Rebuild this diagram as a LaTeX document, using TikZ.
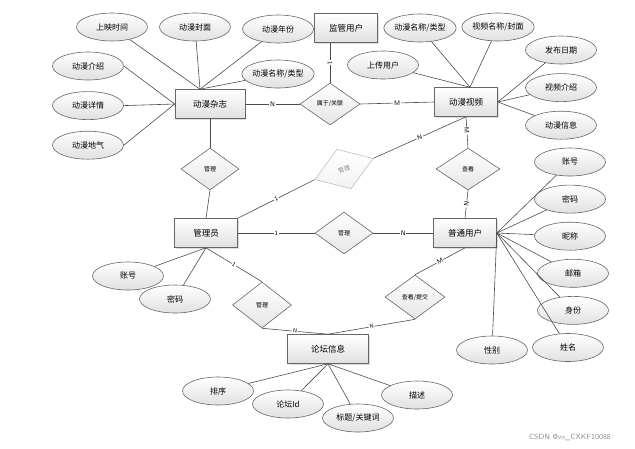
\documentclass[tikz,border=0pt]{standalone}
\usepackage{fontspec}
\newfontfamily\cjk{Noto Sans CJK SC}
\usetikzlibrary{positioning,chains,shapes,shadows}

\begin{document}
\begin{tikzpicture}[
x=1pt,y=-1pt,
line width=0.6pt,
entity/.style={draw=black!60,rectangle,top color=white,bottom color=black!12,
  minimum width=63pt,minimum height=29pt,inner sep=0pt,
  font=\cjk\fontsize{8.5}{9}\selectfont,
  drop shadow={shadow xshift=1pt,shadow yshift=-1pt,opacity=0.25}},
attr/.style={draw=black!60,ellipse,top color=white,bottom color=black!12,
  minimum width=71pt,minimum height=28pt,inner sep=0pt,
  font=\cjk\fontsize{8}{8}\selectfont},
rel/.style={draw=black!60,diamond,top color=white,bottom color=black!10,
  minimum width=60pt,minimum height=42pt,inner sep=0pt,
  font=\cjk\fontsize{6}{6}\selectfont},
card/.style={fill=white,inner sep=0.8pt,font=\sffamily\fontsize{6.5}{7}\selectfont},
conn/.style={draw=black!70},
]
\useasboundingbox (0,0) rectangle (635,448);

% entities
\node[entity] (mon) at (346,28) {监管用户};
\node[entity,minimum width=70pt] (mag) at (210,104) {动漫杂志};
\node[entity] (vid) at (466,102) {动漫视频};
\node[entity] (admin) at (206,233) {管理员};
\node[entity] (user) at (465,233) {普通用户};
\node[entity,minimum width=81pt] (forum) at (328,349) {论坛信息};

% relations
\node[rel] (rjoin) at (330,104) {属于/关联};
\node[rel,minimum width=58pt] (rmag) at (210,169) {管理};
\node[rel,draw=black!25,top color=white,bottom color=black!5,rotate=20,
  text=black!45,minimum width=62pt] (rvid) at (344,169) {管理};
\node[rel,minimum width=64pt] (rlook) at (468,169) {查看};
\node[rel,minimum width=58pt] (ruser) at (344,233) {管理};
\node[rel,minimum width=59pt,minimum height=46pt] (rforum) at (262,305) {管理};
\node[rel,minimum width=60pt,minimum height=44pt] (rpost) at (415,297) {查看/提交};

% magazine attributes
\node[attr] (m1) at (112,27) {上映时间};
\node[attr] (m2) at (195,27) {动漫封面};
\node[attr] (m3) at (278,29) {动漫年份};
\node[attr] (m4) at (278,74) {动漫名称/类型};
\begin{scope}[start chain=going below,node distance=11pt]
\node[attr,on chain] (m5) at (88,66) {动漫介绍};
\node[attr,on chain] (m6) {动漫详情};
\node[attr,on chain] (m7) {动漫地气};
\end{scope}

% video attributes
\node[attr] (v1) at (383,65) {上传用户};
\node[attr] (v2) at (420,28) {动漫名称/类型};
\node[attr] (v3) at (498,27) {视频名称/封面};
\begin{scope}[start chain=going below,node distance=9pt]
\node[attr,on chain] (v4) at (561,50) {发布日期};
\node[attr,on chain] (v5) {视频介绍};
\node[attr,on chain] (v6) {动漫信息};
\end{scope}

% user attributes
\begin{scope}[start chain=going below,node distance=8.5pt]
\node[attr,on chain] (u1) at (570,162) {账号};
\node[attr,on chain] (u2) {密码};
\node[attr,on chain] (u3) {昵称};
\node[attr,on chain,xshift=3pt] (u4) {邮箱};
\node[attr,on chain] (u5) {身份};
\node[attr,on chain,xshift=-5pt] (u6) {姓名};
\end{scope}
\node[attr] (u7) at (492,350) {性别};

% admin attributes
\node[attr] (a1) at (128,276) {账号};
\node[attr] (a2) at (175,299) {密码};

% forum attributes
\node[attr] (f1) at (218,391) {排序};
\node[attr] (f2) at (288,404) {论坛Id};
\node[attr] (f3) at (358,418) {标题/关键词};
\node[attr] (f4) at (417,395) {描述};

% attribute lines
\draw[conn] (m1) -- ([xshift=-10pt]mag.north);
\draw[conn] (m2) -- ([xshift=-10pt]mag.north);
\draw[conn] (m3) -- ([xshift=-10pt]mag.north);
\draw[conn] (m4) -- ([xshift=-10pt]mag.north);
\draw[conn] (m5.east) -- (mag.west);
\draw[conn] (m6.east) -- (mag.west);
\draw[conn] (m7.east) -- (mag.west);

\draw[conn] (v1) -- ([xshift=4pt]vid.north);
\draw[conn] (v2) -- ([xshift=4pt]vid.north);
\draw[conn] (v3) -- ([xshift=4pt]vid.north);
\draw[conn] (v4) -- (vid.east);
\draw[conn] (v5) -- (vid.east);
\draw[conn] (v6) -- (vid.east);

\draw[conn] (u1) -- (user.east);
\draw[conn] (u2) -- (user.east);
\draw[conn] (u3) -- (user.east);
\draw[conn] (u4) -- (user.east);
\draw[conn] (u5) -- (user.east);
\draw[conn] (u6) -- (user.east);
\draw[conn] (u7) -- (user.east);

\draw[conn] (a1) -- (admin.south);
\draw[conn] (a2) -- (admin.south);

\draw[conn] (f1) -- (forum.south);
\draw[conn] (f2) -- (forum.south);
\draw[conn] (f3) -- (forum.south);
\draw[conn] (f4) -- (forum.south);

% relation lines
\draw[conn] (mag.east) -- node[card] {N} (rjoin.west);
\draw[conn] (rjoin.east) -- node[card] {M} (vid.west);
\draw[conn] (rjoin.north |- mon.south) -- node[card,sloped] {1} (rjoin.north);
\draw[conn] (mag.south) -- (rmag.north);
\draw[conn] (rmag.south) -- (admin.north);
\draw[conn] (admin.north east) -- node[card,sloped] {1} (rvid.west);
\draw[conn] (rvid.east) -- node[card,sloped] {N} (vid.south);
\draw[conn] (vid.south) -- node[card,sloped,pos=0.45] {M} (rlook.north);
\draw[conn] (rlook.south) -- node[card,sloped] {N} (user.north);
\draw[conn] (admin.east) -- node[card] {1} (ruser.west);
\draw[conn] (ruser.east) -- node[card] {N} (user.west);
\draw[conn] (admin.south) -- node[card,sloped] {1} (rforum.north);
\draw[conn] (rforum.south) -- node[card,sloped,font=\sffamily\fontsize{5.5}{6}\selectfont] {N} (forum.north);
\draw[conn] (user.south) -- node[card,sloped] {M} (rpost.north);
\draw[conn] (rpost.south) -- node[card,sloped,font=\sffamily\fontsize{5.5}{6}\selectfont] {N} (forum.north);

% watermark
\node[text=black!45,font=\sffamily\fontsize{7.5}{8}\selectfont,inner sep=0pt] (mark) at (570,437) {CSDN @vx\_CXKF10088};
\end{tikzpicture}
\end{document}
